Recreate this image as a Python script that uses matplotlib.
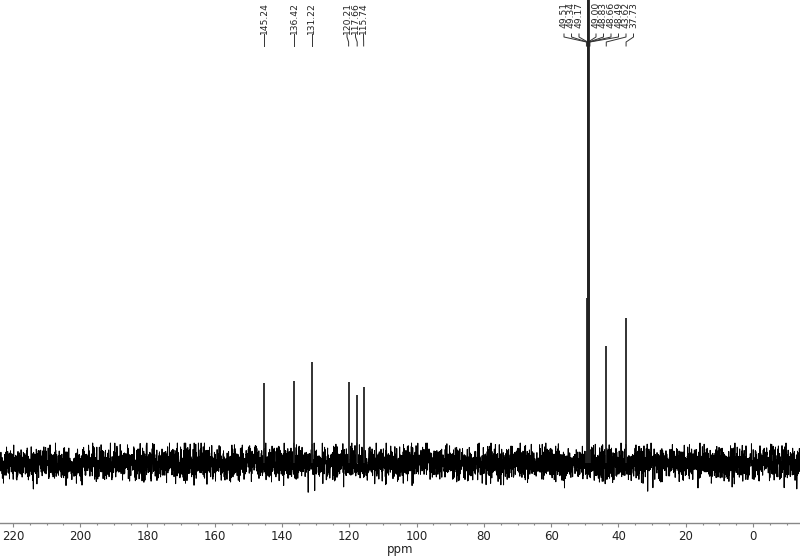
import numpy as np
import matplotlib
matplotlib.use("Agg")
import matplotlib.pyplot as plt
from matplotlib.ticker import MultipleLocator

# ---- data (13C NMR, ppm) ----
peak_ppm = [145.24, 136.42, 131.22, 120.21, 117.66, 115.74,
            49.51, 49.34, 49.17, 49.00, 48.83, 48.66, 48.49, 43.62, 37.73]
# peak heights (arbitrary intensity units, baseline = 0)
peak_height = [80, 82, 101, 81, 68, 76,
               12, 165, 700, 700, 700, 233, 12, 117, 145]
peak_labels = ["145.24", "136.42", "131.22", "120.21", "117.66", "115.74",
               "49.51", "49.34", "49.17", "49.00", "48.83", "48.66", "48.49",
               "43.62", "37.73"]
noise_level = 8.0          # baseline noise (std, intensity units)
xmax_ppm, xmin_ppm = 223.84, -13.97

# ---- figure ----
W, H = 800, 557
fig = plt.figure(figsize=(W / 100, H / 100), dpi=100)
ax = fig.add_axes([0, 34 / H, 1, 1 - 34 / H])
ax.set_xlim(xmax_ppm, xmin_ppm)
ax.set_ylim(-60, 463)

# baseline noise
rng = np.random.default_rng(7)
x_noise = np.linspace(xmax_ppm, xmin_ppm, 6000)
y_noise = np.clip(rng.normal(0, noise_level, x_noise.size), -30, 20)
ax.plot(x_noise, y_noise, color="black", lw=0.7, zorder=2)

# peaks
ax.vlines(peak_ppm, 0, peak_height, color="#222222", lw=1.3, zorder=3)

# ---- peak labels (layout in pixel space) ----
px_per_ppm = W / (xmax_ppm - xmin_ppm)
def px2ppm(px):
    return xmax_ppm - px / px_per_ppm
def ppm2px(p):
    return (xmax_ppm - p) * px_per_ppm
def ypx(py):
    return 463 - py

label_px = [ppm2px(p) for p in peak_ppm[:3]] + [347, 355.5, 363.5] + \
           [564, 571.5, 579, 596, 603.5, 611, 618.5, 626, 633.5]

for lab, lpx, p in zip(peak_labels, label_px, peak_ppm):
    lx = px2ppm(lpx)
    ax.text(lx, ypx(2), lab, rotation=90, ha="center", va="top",
            fontsize=6.6, color="#222222", zorder=1)
    ax.plot([lx, lx, p, p], [ypx(34), ypx(37), ypx(42), ypx(46)],
            color="#333333", lw=0.7, zorder=1)

# ---- axis styling ----
for s in ["left", "right", "top"]:
    ax.spines[s].set_visible(False)
ax.spines["bottom"].set_color("#888888")
ax.spines["bottom"].set_linewidth(1.0)
ax.yaxis.set_visible(False)
ax.xaxis.set_major_locator(MultipleLocator(20))
ax.xaxis.set_minor_locator(MultipleLocator(5))
ax.tick_params(axis="x", which="major", length=3, width=0.8, color="#888888",
               labelsize=8.5, labelcolor="#222222", pad=2)
ax.tick_params(axis="x", which="minor", length=1.5, width=0.8, color="#888888")
ax.set_xlabel("ppm", fontsize=8.5, color="#222222", labelpad=0)

fig.savefig("out.png", dpi=100)
